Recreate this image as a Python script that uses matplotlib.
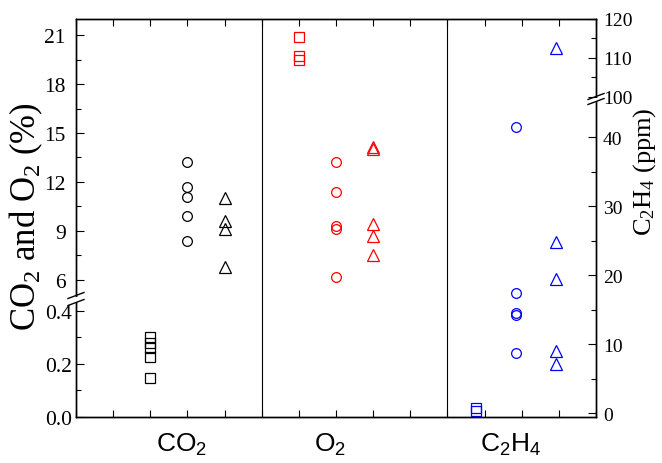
import numpy as np
import matplotlib
matplotlib.use('Agg')
import matplotlib.pyplot as plt
from matplotlib.ticker import FixedLocator, FixedFormatter, NullFormatter
import matplotlib.transforms as mtransforms
from matplotlib.lines import Line2D
from matplotlib.patches import Rectangle

# ---------------- data ----------------
group_labels = ['CO$_2$', 'O$_2$', 'C$_2$H$_4$']
group_label_x = [2.85, 6.85, 11.7]

co2_x = [2, 3, 4]
co2_squares = [0.30, 0.28, 0.26, 0.225, 0.148]
co2_circles = [13.2, 11.7, 11.1, 9.9, 8.4]
co2_triangles = [11.0, 9.6, 9.1, 6.75]

o2_x = [6, 7, 8]
o2_squares = [20.9, 19.7, 19.5]
o2_circles = [13.2, 11.4, 9.3, 9.1, 6.15]
o2_triangles = [14.15, 14.0, 9.4, 8.7, 7.5]

c2h4_x = [10.77, 11.85, 12.92]
c2h4_squares = [0.8, 0.4]
c2h4_circles = [41.5, 17.4, 14.5, 14.3, 8.8]
c2h4_triangles = [112.5, 24.8, 19.4, 9.0, 7.1]

left_major = [0.0, 0.2, 0.4, 6, 9, 12, 15, 18, 21]
left_major_labels = ['0.0', '0.2', '0.4', '6', '9', '12', '15', '18', '21']
left_minor = [0.1, 0.3, 7.5, 10.5, 13.5, 16.5, 19.5]
right_major = [0, 10, 20, 30, 40, 100, 110, 120]
right_major_labels = ['0', '10', '20', '30', '40', '100', '110', '120']
right_minor = [5, 15, 25, 35, 105, 115]

# ---------------- style ----------------
plt.rcParams['font.family'] = ['Liberation Serif', 'DejaVu Serif']
plt.rcParams['mathtext.default'] = 'regular'


def piecewise(vs, hs):
    vs = np.asarray(vs, float)
    hs = np.asarray(hs, float)

    def make(a, b):
        s0 = (b[1] - b[0]) / (a[1] - a[0])
        s1 = (b[-1] - b[-2]) / (a[-1] - a[-2])

        def f(v):
            v = np.asarray(v, float)
            out = np.interp(v, a, b)
            out = np.where(v < a[0], b[0] + (v - a[0]) * s0, out)
            out = np.where(v > a[-1], b[-1] + (v - a[-1]) * s1, out)
            return out
        return f
    return make(vs, hs), make(hs, vs)


W, H = 662, 464
L, R, T, B = 76, 596, 20, 418
fig = plt.figure(figsize=(W / 100, H / 100), dpi=100)
ax = fig.add_axes([L / W, 1 - B / H, (R - L) / W, (B - T) / H])

# left broken scale (units: pixel height from bottom)
ax.set_yscale('function', functions=piecewise([0, 0.4453, 4.834, 22], [0, 118, 118.3, 397.9]))
ax.set_ylim(0, 22)
ax.set_xlim(0, 14)

ax2 = ax.twinx()
ax2.set_yscale('function', functions=piecewise([0, 45.55, 99.54, 120], [3.7, 318, 318.3, 398]))
ax2.set_ylim(-0.536, 120)

mk = dict(linestyle='none', markerfacecolor='none', markeredgewidth=0.9, clip_on=False)
ms_sq, ms_ci, ms_tr = 6.6, 7.0, 8.2


def plot_group(a, xs, sq, ci, tr, color):
    a.plot([xs[0]] * len(sq), sq, marker='s', ms=ms_sq, color=color, **mk)
    a.plot([xs[1]] * len(ci), ci, marker='o', ms=ms_ci, color=color, **mk)
    a.plot([xs[2]] * len(tr), tr, marker='^', ms=ms_tr, color=color, **mk)


plot_group(ax, co2_x, co2_squares, co2_circles, co2_triangles, 'black')
plot_group(ax, o2_x, o2_squares, o2_circles, o2_triangles, '#ff0000')
plot_group(ax2, c2h4_x, c2h4_squares, c2h4_circles, c2h4_triangles, '#0000ff')

ax.axvline(5, color='black', lw=0.8)
ax.axvline(10, color='black', lw=0.8)

# ticks
ax.yaxis.set_major_locator(FixedLocator(left_major))
ax.yaxis.set_major_formatter(FixedFormatter(left_major_labels))
ax.yaxis.set_minor_locator(FixedLocator(left_minor))
ax.yaxis.set_minor_formatter(NullFormatter())
ax2.yaxis.set_major_locator(FixedLocator(right_major))
ax2.yaxis.set_major_formatter(FixedFormatter(right_major_labels))
ax2.yaxis.set_minor_locator(FixedLocator(right_minor))
ax2.yaxis.set_minor_formatter(NullFormatter())
ax.xaxis.set_major_locator(FixedLocator(list(range(0, 15))))
ax.xaxis.set_major_formatter(NullFormatter())

ax.tick_params(axis='x', which='both', direction='in', top=True, bottom=True, length=5, width=0.8)
ax.tick_params(axis='y', which='major', direction='in', left=True, right=False, length=6, width=0.8,
               labelsize=15.5, pad=7.5)
ax.tick_params(axis='y', which='minor', direction='in', left=True, right=False, length=3.5, width=0.8)
ax2.tick_params(axis='y', which='major', direction='in', right=True, left=False, length=6, width=0.8,
                labelsize=14, pad=5)
ax2.tick_params(axis='y', which='minor', direction='in', right=True, left=False, length=3.5, width=0.8)

# lower-segment labels sit closer to the spine
fig.canvas.draw()
for tk, val in zip(ax.yaxis.get_major_ticks(), left_major):
    if val < 1:
        tk.set_pad(3)

for a in (ax, ax2):
    for s in a.spines.values():
        s.set_linewidth(1.0)

ax.set_ylabel('CO$_2$ and O$_2$ (%)', fontsize=25)
ax.yaxis.set_label_coords((45 - L) / (R - L), (B - 217) / (B - T))
ax2.set_ylabel('C$_2$H$_4$ (ppm)', fontsize=19, rotation=90)
ax2.yaxis.set_label_coords((631 - L) / (R - L), (B - 172) / (B - T))

trans = mtransforms.blended_transform_factory(ax.transData, ax.transAxes)
for gx, gl in zip(group_label_x, group_labels):
    ax.text(gx, -0.035, gl, transform=trans, ha='center', va='top', fontsize=19,
            family=['Liberation Sans', 'DejaVu Sans'])


# break marks (figure pixel coordinates)
def px(x, y):
    return x / W, 1 - y / H


def add_break(xc, yc, gap=7, half_w=8, rise=6):
    x0, y0 = px(xc - 1.5, yc - gap / 2 + 1)
    x1, y1 = px(xc + 1.5, yc + gap / 2 - 1)
    fig.add_artist(Rectangle((x0, y1), x1 - x0, y0 - y1, transform=fig.transFigure,
                             facecolor='white', edgecolor='none', zorder=5))
    for dy in (-gap / 2, gap / 2):
        a = px(xc - half_w, yc + dy + rise / 2)
        b = px(xc + half_w, yc + dy - rise / 2)
        fig.add_artist(Line2D([a[0], b[0]], [a[1], b[1]], transform=fig.transFigure,
                              color='black', lw=1.0, zorder=6))


add_break(L, 300)
add_break(R, 100, gap=5)

fig.savefig('out.png', dpi=100)
